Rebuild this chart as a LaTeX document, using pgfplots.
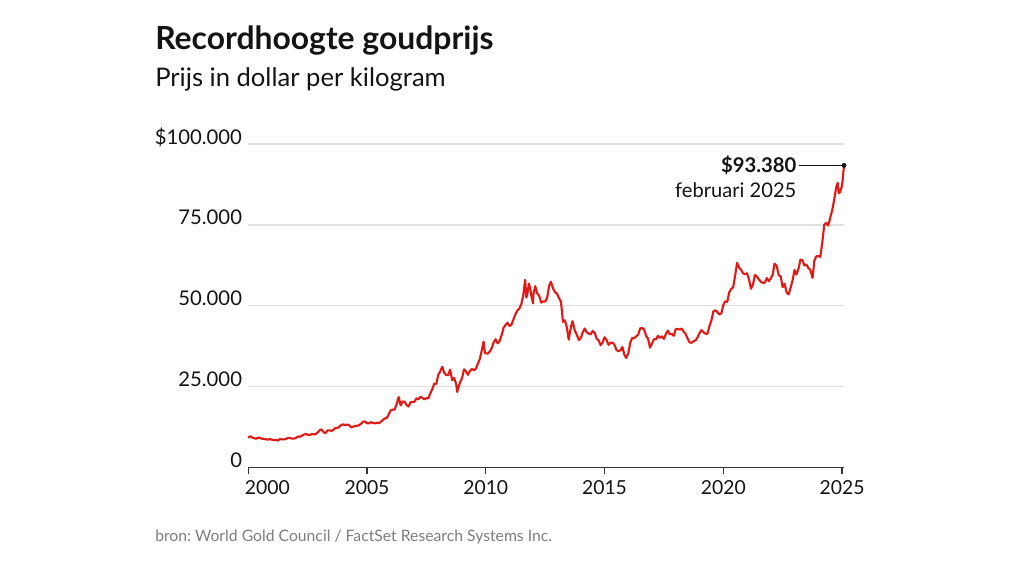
\documentclass[border=0pt]{standalone}
\usepackage{fontspec}
\setmainfont{Lato}
\usepackage{pgfplots}
\usepackage{pgfplotstable}
\pgfplotsset{compat=1.18}
\frenchspacing
\definecolor{goldred}{RGB}{226,26,22}
\definecolor{gridgray}{RGB}{224,224,224}
\definecolor{srcgray}{RGB}{125,125,125}
\definecolor{txt}{RGB}{20,20,20}
\pgfplotstableread{
year month value
2000 1 9130
2000 2 9650
2000 3 9190
2000 4 9000
2000 5 8840
2000 6 9190
2000 7 9070
2000 8 8840
2000 9 8780
2000 10 8680
2000 11 8550
2000 12 8740
2001 1 8520
2001 2 8420
2001 3 8460
2001 4 8290
2001 5 8740
2001 6 8680
2001 7 8620
2001 8 8780
2001 9 9100
2001 10 9100
2001 11 8870
2001 12 8870
2002 1 9070
2002 2 9520
2002 3 9450
2002 4 9740
2002 5 10100
2002 6 10320
2002 7 10100
2002 8 9970
2002 9 10260
2002 10 10190
2002 11 10260
2002 12 10710
2003 1 11480
2003 2 11740
2003 3 10930
2003 4 10550
2003 5 11410
2003 6 11450
2003 7 11280
2003 8 11570
2003 9 12180
2003 10 12180
2003 11 12510
2003 12 13090
2004 1 13310
2004 2 13020
2004 3 13250
2004 4 12990
2004 5 12350
2004 6 12600
2004 7 12800
2004 8 12860
2004 9 13050
2004 10 13500
2004 11 14110
2004 12 14210
2005 1 13630
2005 2 13600
2005 3 13950
2005 4 13760
2005 5 13570
2005 6 13820
2005 7 13630
2005 8 14080
2005 9 14660
2005 10 15110
2005 11 15300
2005 12 16400
2006 1 17650
2006 2 17840
2006 3 17910
2006 4 19610
2006 5 21730
2006 6 19160
2006 7 20350
2006 8 20320
2006 9 19230
2006 10 18810
2006 11 20160
2006 12 20220
2007 1 20290
2007 2 21380
2007 3 21060
2007 4 21830
2007 5 21440
2007 6 21060
2007 7 21380
2007 8 21380
2007 9 22890
2007 10 24240
2007 11 25910
2007 12 25820
2008 1 28580
2008 2 29670
2008 3 31120
2008 4 29220
2008 5 28550
2008 6 28580
2008 7 30220
2008 8 26970
2008 9 27650
2008 10 25910
2008 10.6 23300
2008 11 24430
2008 12 26230
2009 1 27580
2009 2 30320
2009 3 29710
2009 4 28610
2009 5 29840
2009 6 30410
2009 7 30030
2009 8 30510
2009 9 32020
2009 10 33530
2009 11 36230
2009 11.9 38900
2009 12.6 35300
2010 2 35200
2010 3 35780
2010 4 36910
2010 5 38740
2010 6 39610
2010 7 38350
2010 8 39060
2010 9 40860
2010 10 43180
2010 11 44050
2010 12 44720
2011 1 43720
2011 2 44170
2011 3 45780
2011 4 47360
2011 5 48550
2011 6 49160
2011 7 50540
2011 8 53500
2011 8.9 58000
2011 9.5 52500
2011 10 53530
2011 10.8 56800
2011 11.6 55000
2011 12 53110
2011 12.9 50700
2012 1 53240
2012 2 56040
2012 3 53790
2012 4 53050
2012 5 50960
2012 6 51310
2012 7 51250
2012 8 52400
2012 9 56100
2012 9.9 57400
2012 11 55330
2012 12 54140
2013 1 53720
2013 2 52340
2013 3 51210
2013 4 45000
2013 5 45460
2013 6 43180
2013 6.9 39500
2013 8 43310
2013 8.8 45200
2013 10 42310
2013 11 40990
2013 12 39380
2014 1 39990
2014 2 41800
2014 3 42950
2014 4 41760
2014 5 41380
2014 6 41120
2014 7 42150
2014 8 41670
2014 9 39830
2014 10 39290
2014 11 37810
2014 12 38580
2015 1 40220
2015 2 39450
2015 3 37900
2015 4 38520
2015 5 38550
2015 6 37970
2015 7 36330
2015 8 35910
2015 9 36170
2015 10 37200
2015 11 34910
2015 11.9 33800
2016 1 35270
2016 2 38550
2016 3 40030
2016 4 39930
2016 5 40510
2016 6 41020
2016 7 42980
2016 8 43110
2016 9 42630
2016 10 40700
2016 11 39800
2016 12 37000
2017 1 38320
2017 2 39670
2017 3 39580
2017 4 40700
2017 5 40060
2017 6 40510
2017 7 39740
2017 8 41250
2017 9 42280
2017 10 41150
2017 11 41280
2017 12 40670
2018 1 42790
2018 2 42790
2018 3 42600
2018 4 42920
2018 5 41920
2018 6 41220
2018 7 39800
2018 8 38640
2018 9 38520
2018 10 39060
2018 11 39250
2018 12 40190
2019 1 41540
2019 2 42440
2019 3 41800
2019 4 41340
2019 5 41280
2019 6 43690
2019 7 45430
2019 8 48230
2019 9 48550
2019 10 48060
2019 11 47290
2019 12 47580
2020 1 50150
2020 2 51340
2020 3 51180
2020 4 54110
2020 5 55170
2020 6 55680
2020 7 59380
2020 8 63270
2020 9 61760
2020 10 61090
2020 11 59990
2020 12 59730
2021 1 60020
2021 2 58130
2021 3 55230
2021 4 56580
2021 5 59510
2021 6 58960
2021 7 58100
2021 8 57390
2021 9 57070
2021 10 57130
2021 11 58550
2021 12 57550
2022 1 58420
2022 2 59670
2022 2.9 63000
2022 4 62270
2022 5 59450
2022 6 59030
2022 7 55720
2022 8 56750
2022 9 54040
2022 10 53500
2022 11 55490
2022 12 57810
2023 1 61020
2023 2 59640
2023 3 61470
2023 4 64270
2023 5 64040
2023 6 62440
2023 7 62720
2023 8 61660
2023 9 61000
2023 10.1 58600
2023 11 63850
2023 12 65260
2024 1 65390
2024 2 65070
2024 3 69380
2024 4 74940
2024 5 75580
2024 6 74780
2024 7 77100
2024 8 79410
2024 9 82630
2024 10 86480
2024 10.8 88000
2024 11.3 84800
2024 12 85130
2025 1 87130
2025 2 93380
}\golddata
\begin{document}
\begin{tikzpicture}[x=1pt,y=1pt]
\path[use as bounding box] (0,0) rectangle (768,432);
\node[anchor=base west, inner sep=0pt, text=txt, font=\fontsize{23.9}{27}\selectfont\bfseries] at (116.25,394.5) {Recordhoogte goudprijs};
\node[anchor=base west, inner sep=0pt, text=txt, font=\fontsize{19.2}{22}\selectfont] at (116.25,367) {Prijs in dollar per kilogram};
\node[anchor=base west, inner sep=0pt, text=srcgray, font=\fontsize{11.8}{14}\selectfont] at (116.25,25.7) {bron: World Gold Council / FactSet Research Systems Inc.};
\begin{axis}[
  at={(186.2pt,81.5pt)}, anchor=south west,
  scale only axis, width=446.8pt, height=242.5pt,
  xmin=2000, xmax=2025.083, ymin=0, ymax=100000,
  clip=false, scaled y ticks=false, scaled x ticks=false,
  axis x line*=bottom, axis y line*=left,
  x axis line style={-, line width=1.1pt, color=black!80},
  y axis line style={draw=none},
  xtick={2000,2005,2010,2015,2020,2025},
  xticklabels={\hbox to 0pt{\hskip-2.5pt 2000\hss},2005,2010,2015,2020,2025},
  ytick={0,25000,50000,75000,100000},
  yticklabels={0,25.000,50.000,75.000,\$100.000},
  ymajorgrids, grid style={gridgray, line width=1.1pt},
  tick align=outside, major tick length=5pt,
  xtick style={black!80, line width=1pt},
  ytick style={draw=none},
  tick label style={font=\fontsize{14.5}{17}\selectfont, text=txt},
  yticklabel style={anchor=base east, inner sep=0pt, xshift=0.5pt, font=\fontsize{15.2}{17}\selectfont},
  xticklabel style={anchor=base, inner sep=0pt, yshift=-15pt},
]
\addplot[goldred, line width=1.6pt, line join=round] table[x expr=\thisrow{year}+(\thisrow{month}-1)/12, y=value] {\golddata};
\addplot[txt, line width=0.8pt] coordinates {(2023.2,93380) (2025.083,93380)};
\addplot[only marks, mark=*, mark size=1.6pt, txt] coordinates {(2025.083,93380)};
\node[anchor=base east, inner sep=0pt, text=txt, font=\fontsize{15.2}{17}\selectfont\bfseries, yshift=-5.25pt] at (axis cs:2023.09,93380) {\$93.380};
\node[anchor=base east, inner sep=0pt, text=txt, font=\fontsize{15.1}{17}\selectfont, yshift=-24pt] at (axis cs:2023.09,93380) {februari 2025};
\end{axis}
\end{tikzpicture}
\end{document}
